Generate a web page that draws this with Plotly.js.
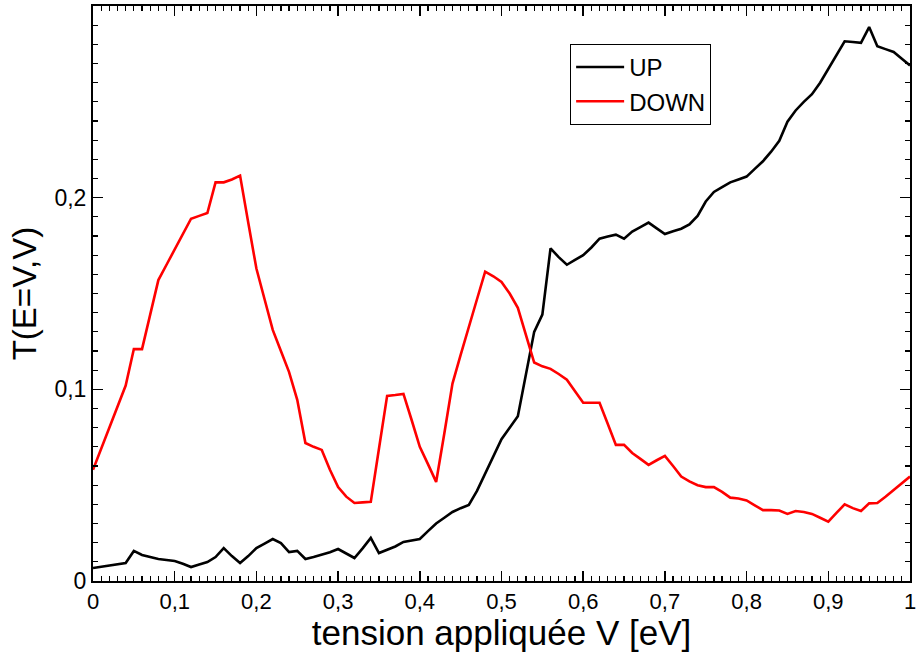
<!DOCTYPE html>
<html>
<head>
<meta charset="utf-8">
<script src="https://cdn.plot.ly/plotly-3.0.1.min.js"></script>
<style>html,body{margin:0;padding:0;background:#fff;}#chart{width:916px;height:652px;}</style>
</head>
<body>
<div id="chart"></div>
<script>
const voltage = [0,0.01,0.02,0.03,0.04,0.05,0.06,0.07,0.08,0.09,0.10,0.11,0.12,0.13,0.14,0.15,0.16,0.17,0.18,0.19,0.20,0.21,0.22,0.23,0.24,0.25,0.26,0.27,0.28,0.29,0.30,0.31,0.32,0.33,0.34,0.35,0.36,0.37,0.38,0.39,0.40,0.41,0.42,0.43,0.44,0.45,0.46,0.47,0.48,0.49,0.50,0.51,0.52,0.53,0.54,0.55,0.56,0.57,0.58,0.59,0.60,0.61,0.62,0.63,0.64,0.65,0.66,0.67,0.68,0.69,0.70,0.71,0.72,0.73,0.74,0.75,0.76,0.77,0.78,0.79,0.80,0.81,0.82,0.83,0.84,0.85,0.86,0.87,0.88,0.89,0.90,0.91,0.92,0.93,0.94,0.95,0.96,0.97,0.98,0.99,1.00];

const upValues = [0.0068,0.0075,0.008,0.0087,0.0094,0.0157,0.0136,0.0125,0.0115,0.011,0.0104,0.009,0.0073,0.0086,0.0099,0.0125,0.0172,0.013,0.0094,0.013,0.0172,0.0195,0.0219,0.0198,0.0151,0.0157,0.0115,0.0125,0.0136,0.015,0.0167,0.0145,0.012,0.017,0.0225,0.0146,0.0162,0.018,0.0204,0.021,0.0219,0.026,0.030,0.033,0.036,0.038,0.0397,0.047,0.056,0.065,0.074,0.080,0.086,0.108,0.130,0.139,0.1735,0.169,0.165,0.1675,0.170,0.174,0.1786,0.1797,0.1807,0.1786,0.1823,0.1846,0.187,0.184,0.181,0.1825,0.1838,0.186,0.1905,0.198,0.203,0.2055,0.208,0.2095,0.211,0.215,0.219,0.224,0.2297,0.2396,0.2455,0.250,0.254,0.260,0.267,0.274,0.2816,0.2812,0.2808,0.289,0.279,0.2775,0.276,0.2725,0.269];

const downValues = [0.058,0.069,0.080,0.091,0.102,0.121,0.121,0.139,0.157,0.165,0.173,0.181,0.189,0.1905,0.192,0.208,0.208,0.2095,0.2115,0.187,0.163,0.147,0.131,0.120,0.109,0.0945,0.072,0.070,0.0684,0.058,0.049,0.044,0.0407,0.041,0.0413,0.069,0.0966,0.097,0.0976,0.084,0.070,0.061,0.0517,0.077,0.103,0.118,0.133,0.147,0.1614,0.159,0.156,0.150,0.1425,0.128,0.114,0.112,0.1107,0.108,0.105,0.099,0.093,0.093,0.093,0.082,0.071,0.071,0.0668,0.0637,0.0606,0.063,0.0653,0.060,0.0545,0.052,0.050,0.049,0.049,0.0465,0.0435,0.043,0.042,0.0395,0.037,0.037,0.0368,0.035,0.0365,0.036,0.035,0.033,0.031,0.0355,0.040,0.038,0.0365,0.0405,0.0407,0.044,0.0475,0.051,0.0545];

const xTickVals = [0,0.1,0.2,0.3,0.4,0.5,0.6,0.7,0.8,0.9,1];
const xTickText = ["0","0,1","0,2","0,3","0,4","0,5","0,6","0,7","0,8","0,9","1"];
const yTickVals = [0,0.1,0.2];
const yTickText = ["0","0,1","0,2"];

const traces = [
  {x: voltage, y: upValues, name: "UP", mode: "lines", line: {color: "#000000", width: 2.6}},
  {x: voltage, y: downValues, name: "DOWN", mode: "lines", line: {color: "#ff0000", width: 2.6}}
];

const sans = "'Liberation Sans', Arial, sans-serif";

const layout = {
  width: 916, height: 652,
  margin: {l: 93, r: 6, t: 6, b: 71, pad: 0},
  paper_bgcolor: "#fff", plot_bgcolor: "#fff",
  showlegend: true,
  legend: {
    x: 0.584, y: 0.934, xanchor: "left", yanchor: "top",
    bordercolor: "#000", borderwidth: 1, bgcolor: "#fff",
    font: {family: sans, size: 24, color: "#000"},
    tracegroupgap: 0, itemwidth: 48
  },
  xaxis: {
    range: [0, 1], showgrid: false, zeroline: false,
    showline: true, linecolor: "#000", linewidth: 2, mirror: "ticks",
    ticks: "inside", ticklen: 10, tickwidth: 1.5, tickcolor: "#000",
    tickvals: xTickVals, ticktext: xTickText, ticklabeloverflow: "allow",
    tickfont: {family: sans, size: 22, color: "#000"},
    minor: {ticks: "inside", dtick: 0.01, ticklen: 5, tickwidth: 1.2, tickcolor: "#000", showgrid: false},
    title: {text: "tension appliquée V [eV]", font: {family: sans, size: 35, color: "#000"}, standoff: 2}
  },
  yaxis: {
    range: [0, 0.3], showgrid: false, zeroline: false,
    showline: true, linecolor: "#000", linewidth: 2, mirror: "ticks",
    ticks: "inside", ticklen: 10, tickwidth: 1.5, tickcolor: "#000",
    tickvals: yTickVals, ticktext: yTickText,
    tickfont: {family: sans, size: 23, color: "#000"},
    minor: {ticks: "inside", dtick: 0.01, ticklen: 5, tickwidth: 1.2, tickcolor: "#000", showgrid: false},
    title: {text: "T(E=V,V)", font: {family: sans, size: 33, color: "#000"}, standoff: 8}
  }
};

Plotly.newPlot("chart", traces, layout, {staticPlot: true, displayModeBar: false});
</script>
</body>
</html>
